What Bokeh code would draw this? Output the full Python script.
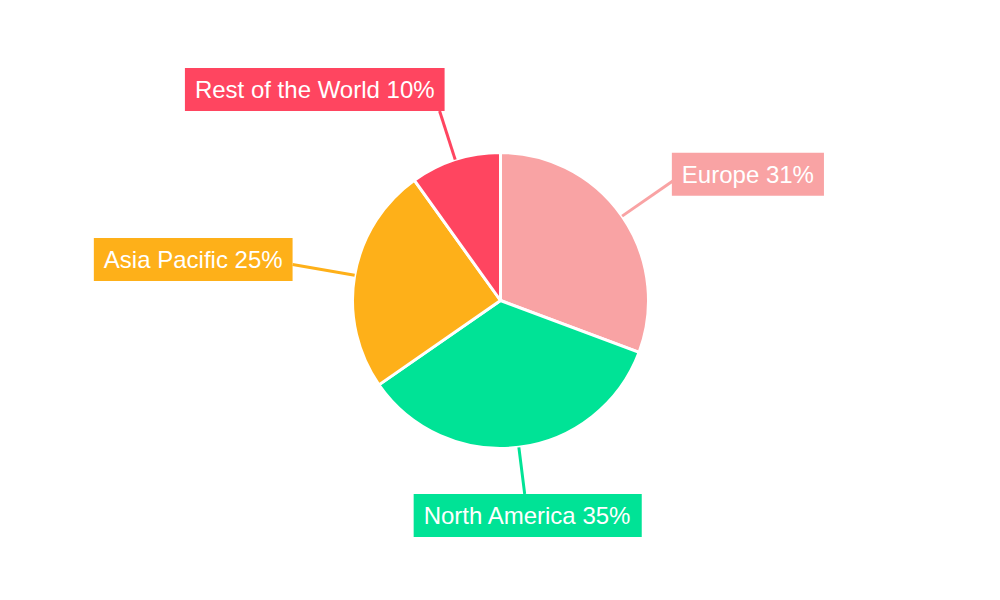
import math
from bokeh.plotting import figure
from bokeh.models import ColumnDataSource, Range1d
from bokeh.core.properties import value
from bokeh.embed import file_html
from bokeh.resources import INLINE

# Market share by region (percent)
regions = ["Europe", "North America", "Asia Pacific", "Rest of the World"]
shares = [31, 35, 25, 10]
colors = ["#F9A3A4", "#00E396", "#FEB019", "#FF4560"]

RADIUS = 148
# length of each leader line, measured from the pie centre
LEADER_OUT = [211, 195, 211, 199]

total = sum(shares)
starts, ends, mids = [], [], []
cum = 0.0
for s in shares:
    a0 = cum / total
    cum += s
    a1 = cum / total
    # slices run clockwise from 12 o'clock
    starts.append(math.pi / 2 - a1 * 2 * math.pi)
    ends.append(math.pi / 2 - a0 * 2 * math.pi)
    mids.append((a0 + a1) / 2 * 2 * math.pi)

x0 = [RADIUS * math.sin(m) for m in mids]
y0 = [RADIUS * math.cos(m) for m in mids]
x1 = [r * math.sin(m) for r, m in zip(LEADER_OUT, mids)]
y1 = [r * math.cos(m) for r, m in zip(LEADER_OUT, mids)]

aligns, baselines, xoff, yoff = [], [], [], []
for m in mids:
    sx, cy = math.sin(m), math.cos(m)
    aligns.append("left" if sx > 0.25 else ("right" if sx < -0.25 else "center"))
    baselines.append("bottom" if cy > 0.75 else ("top" if cy < -0.75 else "middle"))
    # small nudges so each box sits just off its leader line
    if cy > 0.75:
        xoff.append(5)
        yoff.append(0)
    elif cy < -0.75:
        xoff.append(3)
        yoff.append(0)
    else:
        xoff.append(-2 if sx > 0 else 0)
        yoff.append(-6 if sx > 0 else -5)

labels = [f"{r} {s}%" for r, s in zip(regions, shares)]

src = ColumnDataSource(dict(
    region=regions, share=shares, color=colors,
    start=starts, end=ends,
    x0=x0, y0=y0, x1=x1, y1=y1,
    label=labels, align=aligns, baseline=baselines, xoff=xoff, yoff=yoff,
))

p = figure(width=1000, height=600, output_backend="svg", toolbar_location=None,
           x_range=Range1d(-500, 500), y_range=Range1d(-300, 300),
           min_border=0, outline_line_color=None)
p.axis.visible = False
p.grid.visible = False

p.wedge(x=0, y=0, radius=RADIUS, start_angle="start", end_angle="end",
        fill_color="color", line_color="white", line_width=3, source=src)

p.segment(x0="x0", y0="y0", x1="x1", y1="y1", line_color="color",
          line_width=3, source=src)

p.text(x="x1", y="y1", text="label", text_align="align", text_baseline="baseline",
       x_offset="xoff", y_offset="yoff",
       text_color="white", text_font=value("Liberation Sans"), text_font_size="24px",
       background_fill_color="color", padding=(10, 8), source=src)

open("out.html", "w").write(file_html(p, INLINE))
